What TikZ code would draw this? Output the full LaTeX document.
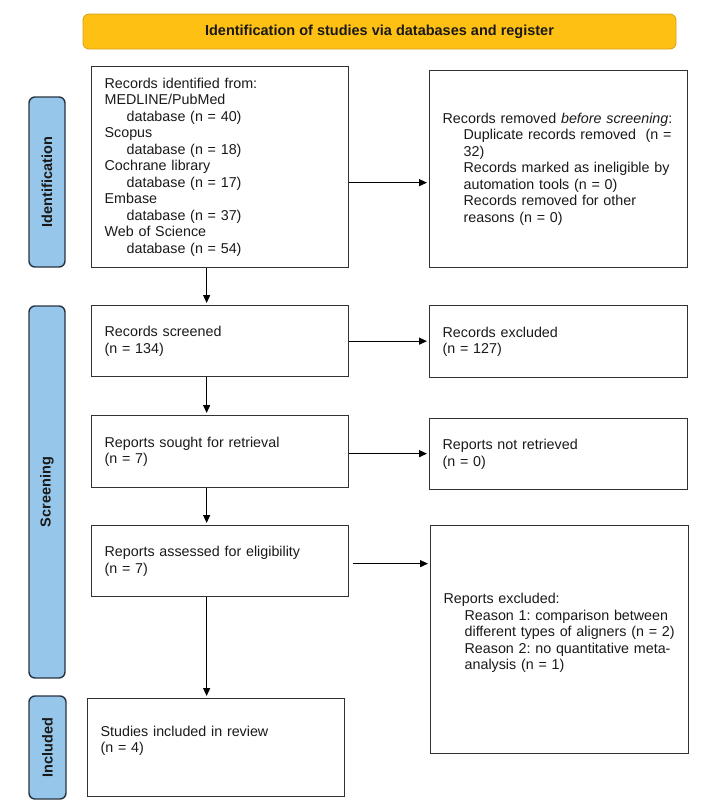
\documentclass[tikz,border=0pt]{standalone}
\usepackage{fontspec}
\setmainfont{Liberation Sans}
\usetikzlibrary{arrows.meta}
\definecolor{bannerfill}{RGB}{255,192,20}
\definecolor{bannerline}{RGB}{215,158,20}
\definecolor{labfill}{RGB}{150,198,234}
\definecolor{labline}{RGB}{40,52,66}
\definecolor{boxline}{RGB}{50,50,50}
\definecolor{txtcol}{RGB}{25,25,25}
\frenchspacing
\begin{document}
\frenchspacing
\begin{tikzpicture}[x=1pt,y=-1pt,
  txt/.style={font=\fontsize{14.3}{16.5}\selectfont\frenchspacing},
  flowbox/.style={draw=boxline, line width=1.3pt, anchor=north west, align=left,
    inner xsep=13pt, inner ysep=0pt, txt, text=txtcol},
  sidelab/.style={draw=labline, line width=1.4pt, fill=labfill, rounded corners=6pt,
    rotate=90, font=\fontsize{14.5}{16}\selectfont\bfseries, inner sep=0pt, text=txtcol},
  banner/.style={draw=bannerline, line width=0.8pt, fill=bannerfill, rounded corners=6pt,
    font=\fontsize{14.5}{16}\selectfont\bfseries, inner sep=0pt, text=txtcol},
  arr/.style={-{Triangle[length=8pt,width=7pt]}, line width=1.2pt, black, shorten >=2pt}]
\useasboundingbox (0,0) rectangle (701,806);

% banner
\node[banner, minimum width=593pt, minimum height=35pt] (top) at (379.5,31.5)
  {Identification of studies via databases and register};

% side labels
\node[sidelab, minimum width=170pt, minimum height=36pt] (labI) at (47,182) {Identification};
\node[sidelab, minimum width=372pt, minimum height=36pt] (labS) at (47,492) {Screening};
\node[sidelab, minimum width=103pt, minimum height=37pt] (labN) at (47.5,747.5) {Included};

% boxes
\node[flowbox, text width=231pt, minimum height=201pt] (ident) at (91,66) {%
Records identified from:\\
MEDLINE/PubMed\\
\hspace*{22pt}database (n = 40)\\
Scopus\\
\hspace*{22pt}database (n = 18)\\
Cochrane library\\
\hspace*{22pt}database (n = 17)\\
Embase\\
\hspace*{22pt}database (n = 37)\\
Web of Science\\
\hspace*{22pt}database (n = 54)};

\node[flowbox, text width=232pt, minimum height=197pt] (removed) at (429,70) {%
Records removed \textit{before screening}:\\
\hspace*{21pt}Duplicate records removed\ \ (n =\\
\hspace*{21pt}32)\\
\hspace*{21pt}Records marked as ineligible by\\
\hspace*{21pt}automation tools (n = 0)\\
\hspace*{21pt}Records removed for other\\
\hspace*{21pt}reasons (n = 0)};

\node[flowbox, text width=231pt, minimum height=71pt] (screened) at (91,305) {%
Records screened\\(n = 134)};
\node[flowbox, text width=232pt, minimum height=72pt] (excl) at (429,305) {%
Records excluded\\(n = 127)};

\node[flowbox, text width=231pt, minimum height=72pt] (sought) at (91,415) {%
Reports sought for retrieval\\(n = 7)};
\node[flowbox, text width=232pt, minimum height=71pt] (notret) at (429,418) {%
Reports not retrieved\\(n = 0)};

\node[flowbox, text width=231pt, minimum height=71pt] (assessed) at (91,525) {%
Reports assessed for eligibility\\(n = 7)};
\node[flowbox, text width=232pt, minimum height=228pt] (repexcl) at (430,525) {%
Reports excluded:\\
\hspace*{21pt}Reason 1: comparison between\\
\hspace*{21pt}different types of aligners (n = 2)\\
\hspace*{21pt}Reason 2: no quantitative meta-\\
\hspace*{21pt}analysis (n = 1)\\
\mbox{}};

\node[flowbox, text width=231pt, minimum height=98pt] (included) at (87,698) {%
Studies included in review\\(n = 4)\\\mbox{}};

% connectors
\draw[arr] ([yshift=-15.5pt]ident.east) -- ([yshift=-15.5pt]ident.east -| removed.west);
\draw[arr] ([xshift=-13.5pt]ident.south) -- ([xshift=-13.5pt]ident.south |- screened.north);
\draw[arr] (screened.east) -- (screened.east -| excl.west);
\draw[arr] ([xshift=-13.5pt]screened.south) -- ([xshift=-13.5pt]screened.south |- sought.north);
\draw[arr] ([yshift=-2pt]sought.east) -- ([yshift=-2pt]sought.east -| notret.west);
\draw[arr] ([xshift=-13.5pt]sought.south) -- ([xshift=-13.5pt]sought.south |- assessed.north);
\draw[arr] ([xshift=4pt,yshift=-2.5pt]assessed.east) -- ([yshift=-2.5pt]assessed.east -| repexcl.west);
\draw[arr] ([xshift=-13.5pt]assessed.south) -- ([xshift=-13.5pt]assessed.south |- included.north);
\end{tikzpicture}
\end{document}
